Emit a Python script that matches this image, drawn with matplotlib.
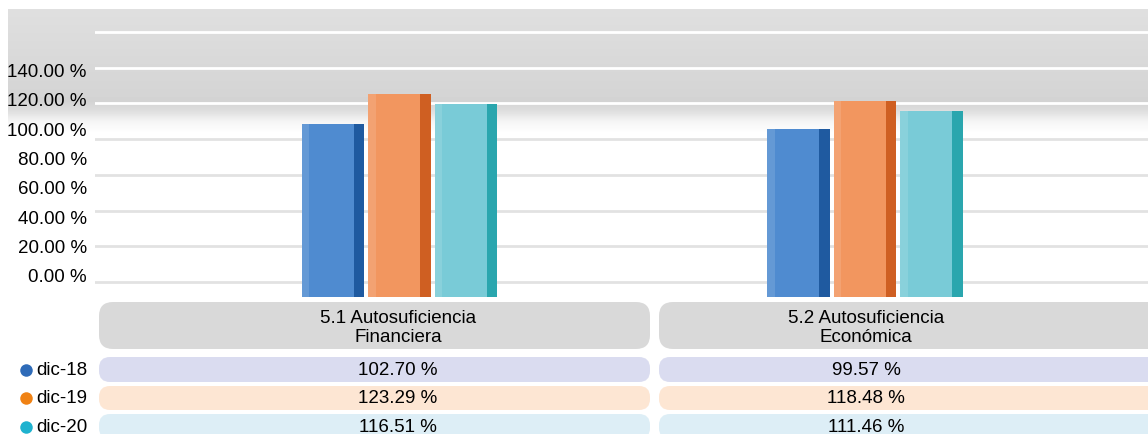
import matplotlib.pyplot as plt
import numpy as np
from matplotlib.patches import FancyBboxPatch

# Datos del gráfico
categorias = ['5.1 Autosuficiencia\nFinanciera', '5.2 Autosuficiencia\nEconómica']
series = ['dic-18', 'dic-19', 'dic-20']
dic18 = [102.70, 99.57]
dic19 = [123.29, 118.48]
dic20 = [116.51, 111.46]
ticks_y = [0, 20, 40, 60, 80, 100, 120, 140]

valores = [dic18, dic19, dic20]
col_frente = ['#4f8bd0', '#f2965f', '#79cbd7']
col_lado = ['#1f5aa0', '#cf5f22', '#2aa6ae']
col_marca = ['#2e6bb8', '#f08214', '#1fb2cf']
col_fila = ['#dadcf0', '#fde6d3', '#ddeef6']

W, H = 1148, 435
plt.rcParams['font.family'] = ['Liberation Sans', 'DejaVu Sans']
fig = plt.figure(figsize=(W / 100, H / 100), dpi=100)

def caja(x0, y0, x1, y1):
    # convierte pixeles (origen arriba-izquierda) a fracción de figura
    return [x0 / W, 1 - y1 / H, (x1 - x0) / W, (y1 - y0) / H]

# Fondo degradado gris en la parte superior
fondo = fig.add_axes(caja(8, 10, W, 135), zorder=0)
filas = np.arange(125)
grad = np.interp(filas, [0, 60, 92, 100, 112, 124], [0.875, 0.845, 0.83, 0.86, 0.96, 1.0])
fondo.imshow(grad[:, None] * np.ones((1, 10)), cmap='gray', vmin=0, vmax=1,
             aspect='auto', extent=[0, 1, 0, 1])
fondo.axis('off')

# Líneas de fondo (rejilla del fondo 3D)
rej = fig.add_axes(caja(95, 10, W, 298), zorder=1)
rej.set_ylim(-8.4, 152.9)
for v in ticks_y:
    rej.axhline(v, color='white' if v >= 100 else '#e2e2e2', lw=2, zorder=1)
rej.axis('off')

# Ejes de las barras
ax = fig.add_axes(caja(95, 10, W, 298), zorder=2)
ax.patch.set_alpha(0)
ax.set_ylim(-15, 181)
ax.set_xlim(-0.654, 1.608)

x = np.arange(len(categorias))
paso, ancho, lado = 0.143, 0.112, 0.022
for i, vals in enumerate(valores):
    xi = x + (i - 1) * paso - lado / 2
    alto = np.array(vals) + 15
    ax.bar(xi, alto, ancho, bottom=-15, color=col_frente[i], zorder=3)
    ax.bar(xi + ancho / 2 + lado / 2, alto, lado, bottom=-15, color=col_lado[i], zorder=3)
    # brillo lateral izquierdo
    ax.bar(xi - ancho / 2 + 0.008, alto, 0.016, bottom=-15, color='white', alpha=0.12, zorder=4)

ax.set_yticks(ticks_y)
ax.set_yticklabels([f'{t:.2f} %' for t in ticks_y], fontsize=13.5)
ax.tick_params(axis='y', length=0, pad=6)
ax.set_xticks([])
for s in ax.spines.values():
    s.set_visible(False)

# Tabla de datos
tb = fig.add_axes([0, 0, 1, 1], zorder=3)
tb.set_xlim(0, W)
tb.set_ylim(H, 0)
tb.axis('off')

columnas = [(99, 650, 398), (659, 1180, 866)]
for (x0, x1, xc), cat in zip(columnas, categorias):
    tb.add_patch(FancyBboxPatch((x0, 303), x1 - x0, 47, boxstyle='round,pad=0,rounding_size=14',
                                fc='#d9d9d9', ec='none'))
    tb.text(xc, 328, cat, ha='center', va='center', fontsize=13.5, linespacing=1.1)

filas_y = [(358, 383), (387, 411), (415, 440)]
for j, ((y0, y1), nombre) in enumerate(zip(filas_y, series)):
    yc = (y0 + y1) / 2
    tb.plot(26, yc, marker='o', ms=9, color=col_marca[j], mec='none')
    tb.text(36, yc, nombre, ha='left', va='center', fontsize=13.5)
    for k, (x0, x1, xc) in enumerate(columnas):
        tb.add_patch(FancyBboxPatch((x0, y0), x1 - x0, y1 - y0,
                                    boxstyle='round,pad=0,rounding_size=11',
                                    fc=col_fila[j], ec='none'))
        tb.text(xc, yc, f'{valores[j][k]:.2f} %', ha='center', va='center', fontsize=13.5)

plt.savefig('out.png', dpi=100)
